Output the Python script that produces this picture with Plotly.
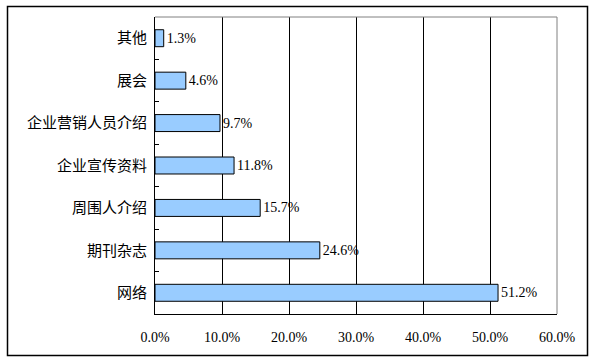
import plotly.graph_objects as go

categories = ["网络", "期刊杂志", "周围人介绍", "企业宣传资料", "企业营销人员介绍", "展会", "其他"]
values = [51.2, 24.6, 15.7, 11.8, 9.7, 4.6, 1.3]
labels = ["51.2%", "24.6%", "15.7%", "11.8%", "9.7%", "4.6%", "1.3%"]
x_ticks = [0, 10, 20, 30, 40, 50, 60]
x_tick_labels = ["0.0%", "10.0%", "20.0%", "30.0%", "40.0%", "50.0%", "60.0%"]

FONT = "Liberation Serif, Noto Sans CJK SC, sans-serif"
W, H = 591, 362
L, R, T, B = 155, 34, 17, 48
pw, ph = W - L - R, H - T - B

def px(x):
    return (x - L) / pw

def py(y):
    return (H - B - y) / ph

fig = go.Figure(go.Bar(
    x=values, y=categories, orientation="h",
    marker=dict(color="#99CCFF", line=dict(color="black", width=1)),
    width=0.4,
    text=labels, textposition="outside", cliponaxis=False,
    textfont=dict(family=FONT, size=14, color="black"),
    hoverinfo="skip",
))

fig.update_layout(
    width=W, height=H,
    margin=dict(l=L, r=R, t=T, b=B, autoexpand=False),
    paper_bgcolor="white", plot_bgcolor="white",
    showlegend=False,
    font=dict(family=FONT, size=14, color="black"),
    xaxis=dict(range=[0, 60], tickvals=x_ticks, ticktext=x_tick_labels,
               showgrid=True, gridcolor="black", gridwidth=1,
               showline=True, linecolor="black", linewidth=1,
               ticks="", zeroline=False, ticklabelstandoff=10,
               tickfont=dict(family=FONT, size=14, color="black")),
    yaxis=dict(showline=True, linecolor="black", linewidth=1,
               ticks="inside", ticklen=4, tickcolor="black", tickson="boundaries",
               showgrid=False, ticklabelstandoff=4,
               tickfont=dict(family="Noto Sans CJK SC", size=15, color="black")),
    bargap=0.6,
)

shapes = [
    dict(type="line", xref="paper", yref="paper", x0=0, x1=1, y0=1, y1=1,
         line=dict(color="#808080", width=1), layer="above"),
    dict(type="line", xref="paper", yref="paper", x0=1, x1=1, y0=0, y1=1,
         line=dict(color="#808080", width=1), layer="above"),
    dict(type="rect", xref="paper", yref="paper",
         x0=px(7.5), x1=px(587.5), y0=py(355.5), y1=py(6.5),
         line=dict(color="black", width=1.5), layer="above"),
]
fig.update_layout(shapes=shapes)

fig.write_html("out.html",
               config={"displayModeBar": False},
               post_script="document.body.style.margin='0';document.body.style.overflow='hidden';")
